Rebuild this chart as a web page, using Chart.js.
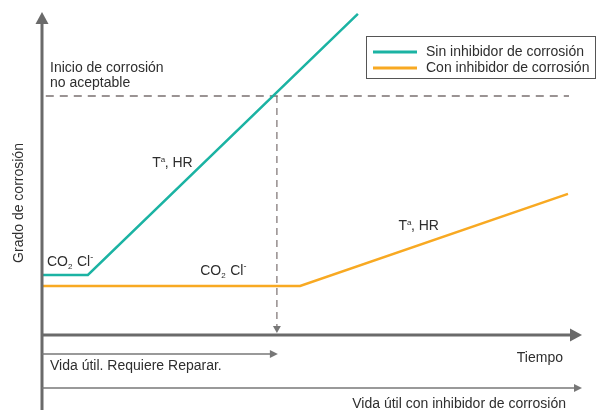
<!DOCTYPE html>
<html>
<head>
<meta charset="utf-8">
<script src="https://cdn.jsdelivr.net/npm/chart.js@4.4.1/dist/chart.umd.min.js"></script>
<style>
  html, body { margin: 0; padding: 0; background: #fff; }
  #wrap { width: 598px; height: 413px; }
</style>
</head>
<body>
<div id="wrap"><canvas id="corrosionChart"></canvas></div>
<script>
// conceptual chart, units are arbitrary (0-100 on both axes)
const seriesNames = ['Sin inhibidor de corrosión', 'Con inhibidor de corrosión'];
const tiempoSin = [0, 8.5, 58.5];
const gradoSin = [18.6, 18.6, 99.4];
const tiempoCon = [0, 47.8, 97.4];
const gradoCon = [15.2, 15.2, 43.7];
const umbral = 74;        // inicio de corrosión no aceptable
const tiempoFalla = 43.5; // vida útil sin inhibidor

const teal = '#1bb3a3';
const orange = '#f8a922';
const axisGray = '#6a6a6a';
const textColor = '#2e2e2e';
const font = '"Liberation Sans", Arial, sans-serif';
const fs = 14;

const toPoints = (xs, ys) => xs.map((x, i) => ({ x: x, y: ys[i] }));

const ctx = document.getElementById('corrosionChart');

const annotations = {
  id: 'annotations',
  afterDatasetsDraw(chart) {
    const c = chart.ctx;
    const area = chart.chartArea;
    const xs = chart.scales.x;
    const ys = chart.scales.y;
    const xFalla = xs.getPixelForValue(tiempoFalla);

    c.save();
    // axes
    c.strokeStyle = axisGray;
    c.fillStyle = axisGray;
    c.lineWidth = 3;
    c.beginPath();
    c.moveTo(area.left, area.top + 8);
    c.lineTo(area.left, area.bottom + 75);
    c.moveTo(area.left, area.bottom);
    c.lineTo(area.right - 8, area.bottom);
    c.stroke();
    // y arrow head
    c.beginPath();
    c.moveTo(area.left, area.top);
    c.lineTo(area.left - 6.5, area.top + 12);
    c.lineTo(area.left + 6.5, area.top + 12);
    c.closePath();
    c.fill();
    // x arrow head
    c.beginPath();
    c.moveTo(area.right, area.bottom);
    c.lineTo(area.right - 12, area.bottom - 6.5);
    c.lineTo(area.right - 12, area.bottom + 6.5);
    c.closePath();
    c.fill();

    // lifetime arrows below the axis
    c.lineWidth = 1.5;
    c.strokeStyle = '#777';
    c.fillStyle = '#777';
    const lifeArrow = (y, xEnd) => {
      c.beginPath();
      c.moveTo(area.left, y);
      c.lineTo(xEnd - 6, y);
      c.stroke();
      c.beginPath();
      c.moveTo(xEnd, y);
      c.lineTo(xEnd - 8, y - 4);
      c.lineTo(xEnd - 8, y + 4);
      c.closePath();
      c.fill();
    };
    lifeArrow(area.bottom + 19, xFalla + 1);
    lifeArrow(area.bottom + 53, area.right);

    // arrow head on the dashed vertical
    c.beginPath();
    c.moveTo(xFalla, area.bottom - 2);
    c.lineTo(xFalla - 4, area.bottom - 9);
    c.lineTo(xFalla + 4, area.bottom - 9);
    c.closePath();
    c.fill();

    // texts
    c.fillStyle = textColor;
    c.textBaseline = 'alphabetic';
    c.font = fs + 'px ' + font;
    c.textAlign = 'left';
    c.fillText('Inicio de corrosión', area.left + 8, 72);
    c.fillText('no aceptable', area.left + 8, 87);
    c.fillText('Vida útil. Requiere Reparar.', area.left + 8, area.bottom + 35);
    c.textAlign = 'right';
    c.fillText('Tiempo', area.right - 19, area.bottom + 27);
    c.fillText('Vida útil con inhibidor de corrosión', area.right - 16, area.bottom + 73);

    const tHR = (x, y) => {
      c.textAlign = 'left';
      c.font = fs + 'px ' + font;
      c.fillText('T', x, y);
      const w = c.measureText('T').width;
      c.font = '8px ' + font;
      c.fillText('a', x + w, y - 5);
      c.font = fs + 'px ' + font;
      c.fillText(', HR', x + w + 4, y);
    };
    tHR(xs.getPixelForValue(20.4), ys.getPixelForValue(52));
    tHR(xs.getPixelForValue(66), ys.getPixelForValue(32.5));

    const co2 = (x, y) => {
      c.textAlign = 'left';
      c.font = fs + 'px ' + font;
      c.fillText('CO', x, y);
      let w = c.measureText('CO').width;
      c.font = '8px ' + font;
      c.fillText('2', x + w, y + 3);
      w += 9;
      c.font = fs + 'px ' + font;
      c.fillText('Cl', x + w, y);
      w += c.measureText('Cl').width;
      c.font = '9px ' + font;
      c.fillText('-', x + w, y - 6);
    };
    co2(area.left + 5, ys.getPixelForValue(21.5));
    co2(xs.getPixelForValue(29.3), ys.getPixelForValue(18.5));

    // y title
    c.save();
    c.translate(23, 203);
    c.rotate(-Math.PI / 2);
    c.textAlign = 'center';
    c.font = fs + 'px ' + font;
    c.fillText('Grado de corrosión', 0, 0);
    c.restore();

    // legend
    const lx = 366, ly = 36, lw = 229, lh = 42;
    c.strokeStyle = '#555';
    c.lineWidth = 1;
    c.strokeRect(lx + 0.5, ly + 0.5, lw, lh);
    chart.data.datasets.slice(0, 2).forEach((ds, i) => {
      const yy = ly + 15 + i * 16;
      c.strokeStyle = ds.borderColor;
      c.lineWidth = 3;
      c.beginPath();
      c.moveTo(lx + 7, yy + 1);
      c.lineTo(lx + 51, yy + 1);
      c.stroke();
      c.fillStyle = textColor;
      c.font = fs + 'px ' + font;
      c.textAlign = 'left';
      c.fillText(ds.label, lx + 60, yy + 5);
    });
    c.restore();
  }
};

new Chart(ctx, {
  type: 'line',
  data: {
    datasets: [{
      label: seriesNames[0],
      data: toPoints(tiempoSin, gradoSin),
      borderColor: teal,
      borderWidth: 2.5,
      pointRadius: 0,
      fill: false,
      order: 1
    }, {
      label: seriesNames[1],
      data: toPoints(tiempoCon, gradoCon),
      borderColor: orange,
      borderWidth: 2.5,
      pointRadius: 0,
      fill: false,
      order: 2
    }, {
      label: 'umbral',
      data: [{ x: 0.7, y: umbral }, { x: 97.6, y: umbral }],
      borderColor: '#7a7070',
      borderWidth: 1.5,
      borderDash: [8, 6],
      pointRadius: 0,
      fill: false,
      order: 3
    }, {
      label: 'falla',
      data: [{ x: tiempoFalla, y: umbral }, { x: tiempoFalla, y: 2 }],
      borderColor: '#7a7070',
      borderWidth: 1.2,
      borderDash: [7, 5],
      pointRadius: 0,
      fill: false,
      order: 3
    }]
  },
  options: {
    responsive: true,
    maintainAspectRatio: false,
    animation: false,
    layout: { padding: { left: 42, right: 16, top: 12, bottom: 78 } },
    scales: {
      x: { type: 'linear', min: 0, max: 100, display: false },
      y: { min: 0, max: 100, display: false }
    },
    plugins: {
      legend: { display: false },
      tooltip: { enabled: false }
    },
    elements: { line: { tension: 0 } },
    clip: false
  },
  plugins: [annotations]
});
</script>
</body>
</html>
